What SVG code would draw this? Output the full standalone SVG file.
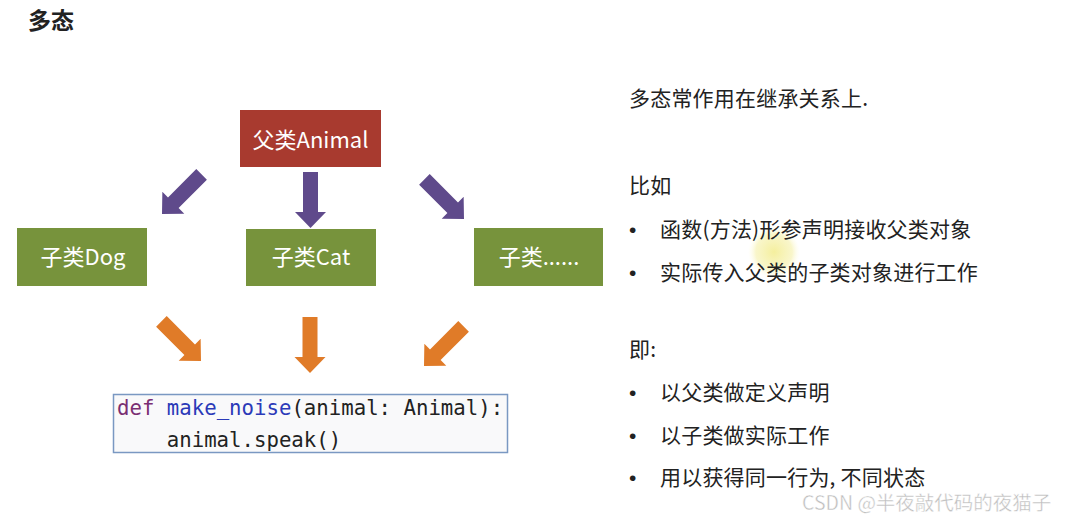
<svg xmlns="http://www.w3.org/2000/svg" xmlns:xlink="http://www.w3.org/1999/xlink" width="1066" height="514" viewBox="0 0 1066 514">
  <style>
    .cjk { font-family: "Noto Sans CJK SC", "Noto Sans", sans-serif; }
    .box-red { fill: #A83A2F; }
    .box-green { fill: #77933C; }
    .box-label { font-family: "Noto Sans CJK SC", "Noto Sans", sans-serif; font-size: 22px; fill: #ffffff; text-anchor: middle; }
    .purple { fill: #5F4A8B; }
    .orange { fill: #E07B28; }
    .code { font-family: "DejaVu Sans Mono", "Liberation Mono", monospace; font-size: 20.7px; fill: #222222; }
    .kw { fill: #7A2E72; }
    .fn { fill: #2B3AB8; }
    .body { font-family: "Noto Sans CJK SC", "Noto Sans", sans-serif; font-size: 21px; fill: #222222; letter-spacing: 0.2px; }
    .bullet { font-family: "Liberation Sans", Arial, sans-serif; font-size: 21px; fill: #222222; }
  </style>
  <defs>
    <path id="arrow" d="M -7.5,-56 L 7.5,-56 L 7.5,-16 L 15.5,-16 L 0,0 L -15.5,-16 L -7.5,-16 Z"/>
    <radialGradient id="hl" cx="0.5" cy="0.5" r="0.5">
      <stop offset="0" stop-color="#F3EC8C" stop-opacity="0.85"/>
      <stop offset="0.7" stop-color="#F5F0A8" stop-opacity="0.6"/>
      <stop offset="1" stop-color="#FFFDE0" stop-opacity="0"/>
    </radialGradient>
  </defs>
  <rect x="0" y="0" width="1066" height="514" fill="#ffffff"/>

  <text x="28" y="29" class="cjk" font-size="23" font-weight="bold" fill="#222222">多态</text>

  <g id="connectors">
    <use xlink:href="#arrow" class="purple" transform="translate(162,214) rotate(45)"/>
    <use xlink:href="#arrow" class="purple" transform="translate(310.5,228)"/>
    <use xlink:href="#arrow" class="purple" transform="translate(464,219) rotate(-45)"/>
    <use xlink:href="#arrow" class="orange" transform="translate(201,361) rotate(-45)"/>
    <use xlink:href="#arrow" class="orange" transform="translate(310,373)"/>
    <use xlink:href="#arrow" class="orange" transform="translate(424,366) rotate(45)"/>
  </g>

  <g id="node-animal">
    <rect x="240" y="110" width="141" height="57" class="box-red"/>
    <text x="310.5" y="147.5" class="box-label">父类Animal</text>
  </g>
  <g id="node-dog">
    <rect x="17" y="228" width="130" height="58" class="box-green"/>
    <text x="83" y="265" class="box-label">子类Dog</text>
  </g>
  <g id="node-cat">
    <rect x="246" y="229" width="130" height="57" class="box-green"/>
    <text x="311" y="265" class="box-label">子类Cat</text>
  </g>
  <g id="node-more">
    <rect x="474" y="228" width="129" height="58" class="box-green"/>
    <text x="539" y="265" class="box-label">子类......</text>
  </g>

  <g id="node-code">
    <rect x="113.5" y="394.5" width="394" height="58" fill="#F9F9FA" stroke="#7A98C2" stroke-width="1.5"/>
    <text x="117" y="415" class="code"><tspan class="kw">def</tspan> <tspan class="fn">make_noise</tspan>(animal: Animal):</text>
    <text x="166.8" y="446.5" class="code">animal.speak()</text>
  </g>

  <circle cx="774" cy="252" r="26" fill="url(#hl)"/>

  <g id="notes">
    <text x="629" y="106" class="body">多态常作用在继承关系上.</text>
    <text x="629" y="193" class="body">比如</text>
    <text x="629" y="237" class="bullet">•</text>
    <text x="660" y="237" class="body">函数(方法)形参声明接收父类对象</text>
    <text x="629" y="280" class="bullet">•</text>
    <text x="660" y="280" class="body">实际传入父类的子类对象进行工作</text>
    <text x="629" y="357" class="body">即:</text>
    <text x="629" y="400" class="bullet">•</text>
    <text x="660" y="400" class="body">以父类做定义声明</text>
    <text x="629" y="443" class="bullet">•</text>
    <text x="660" y="443" class="body">以子类做实际工作</text>
    <text x="629" y="485" class="bullet">•</text>
    <text x="660" y="485" class="body">用以获得同一行为, 不同状态</text>
  </g>

  <text x="802" y="510" class="cjk" font-size="19.5" fill="#BDBDBD" stroke="#ffffff" stroke-width="0.4">CSDN @半夜敲代码的夜猫子</text>
</svg>
